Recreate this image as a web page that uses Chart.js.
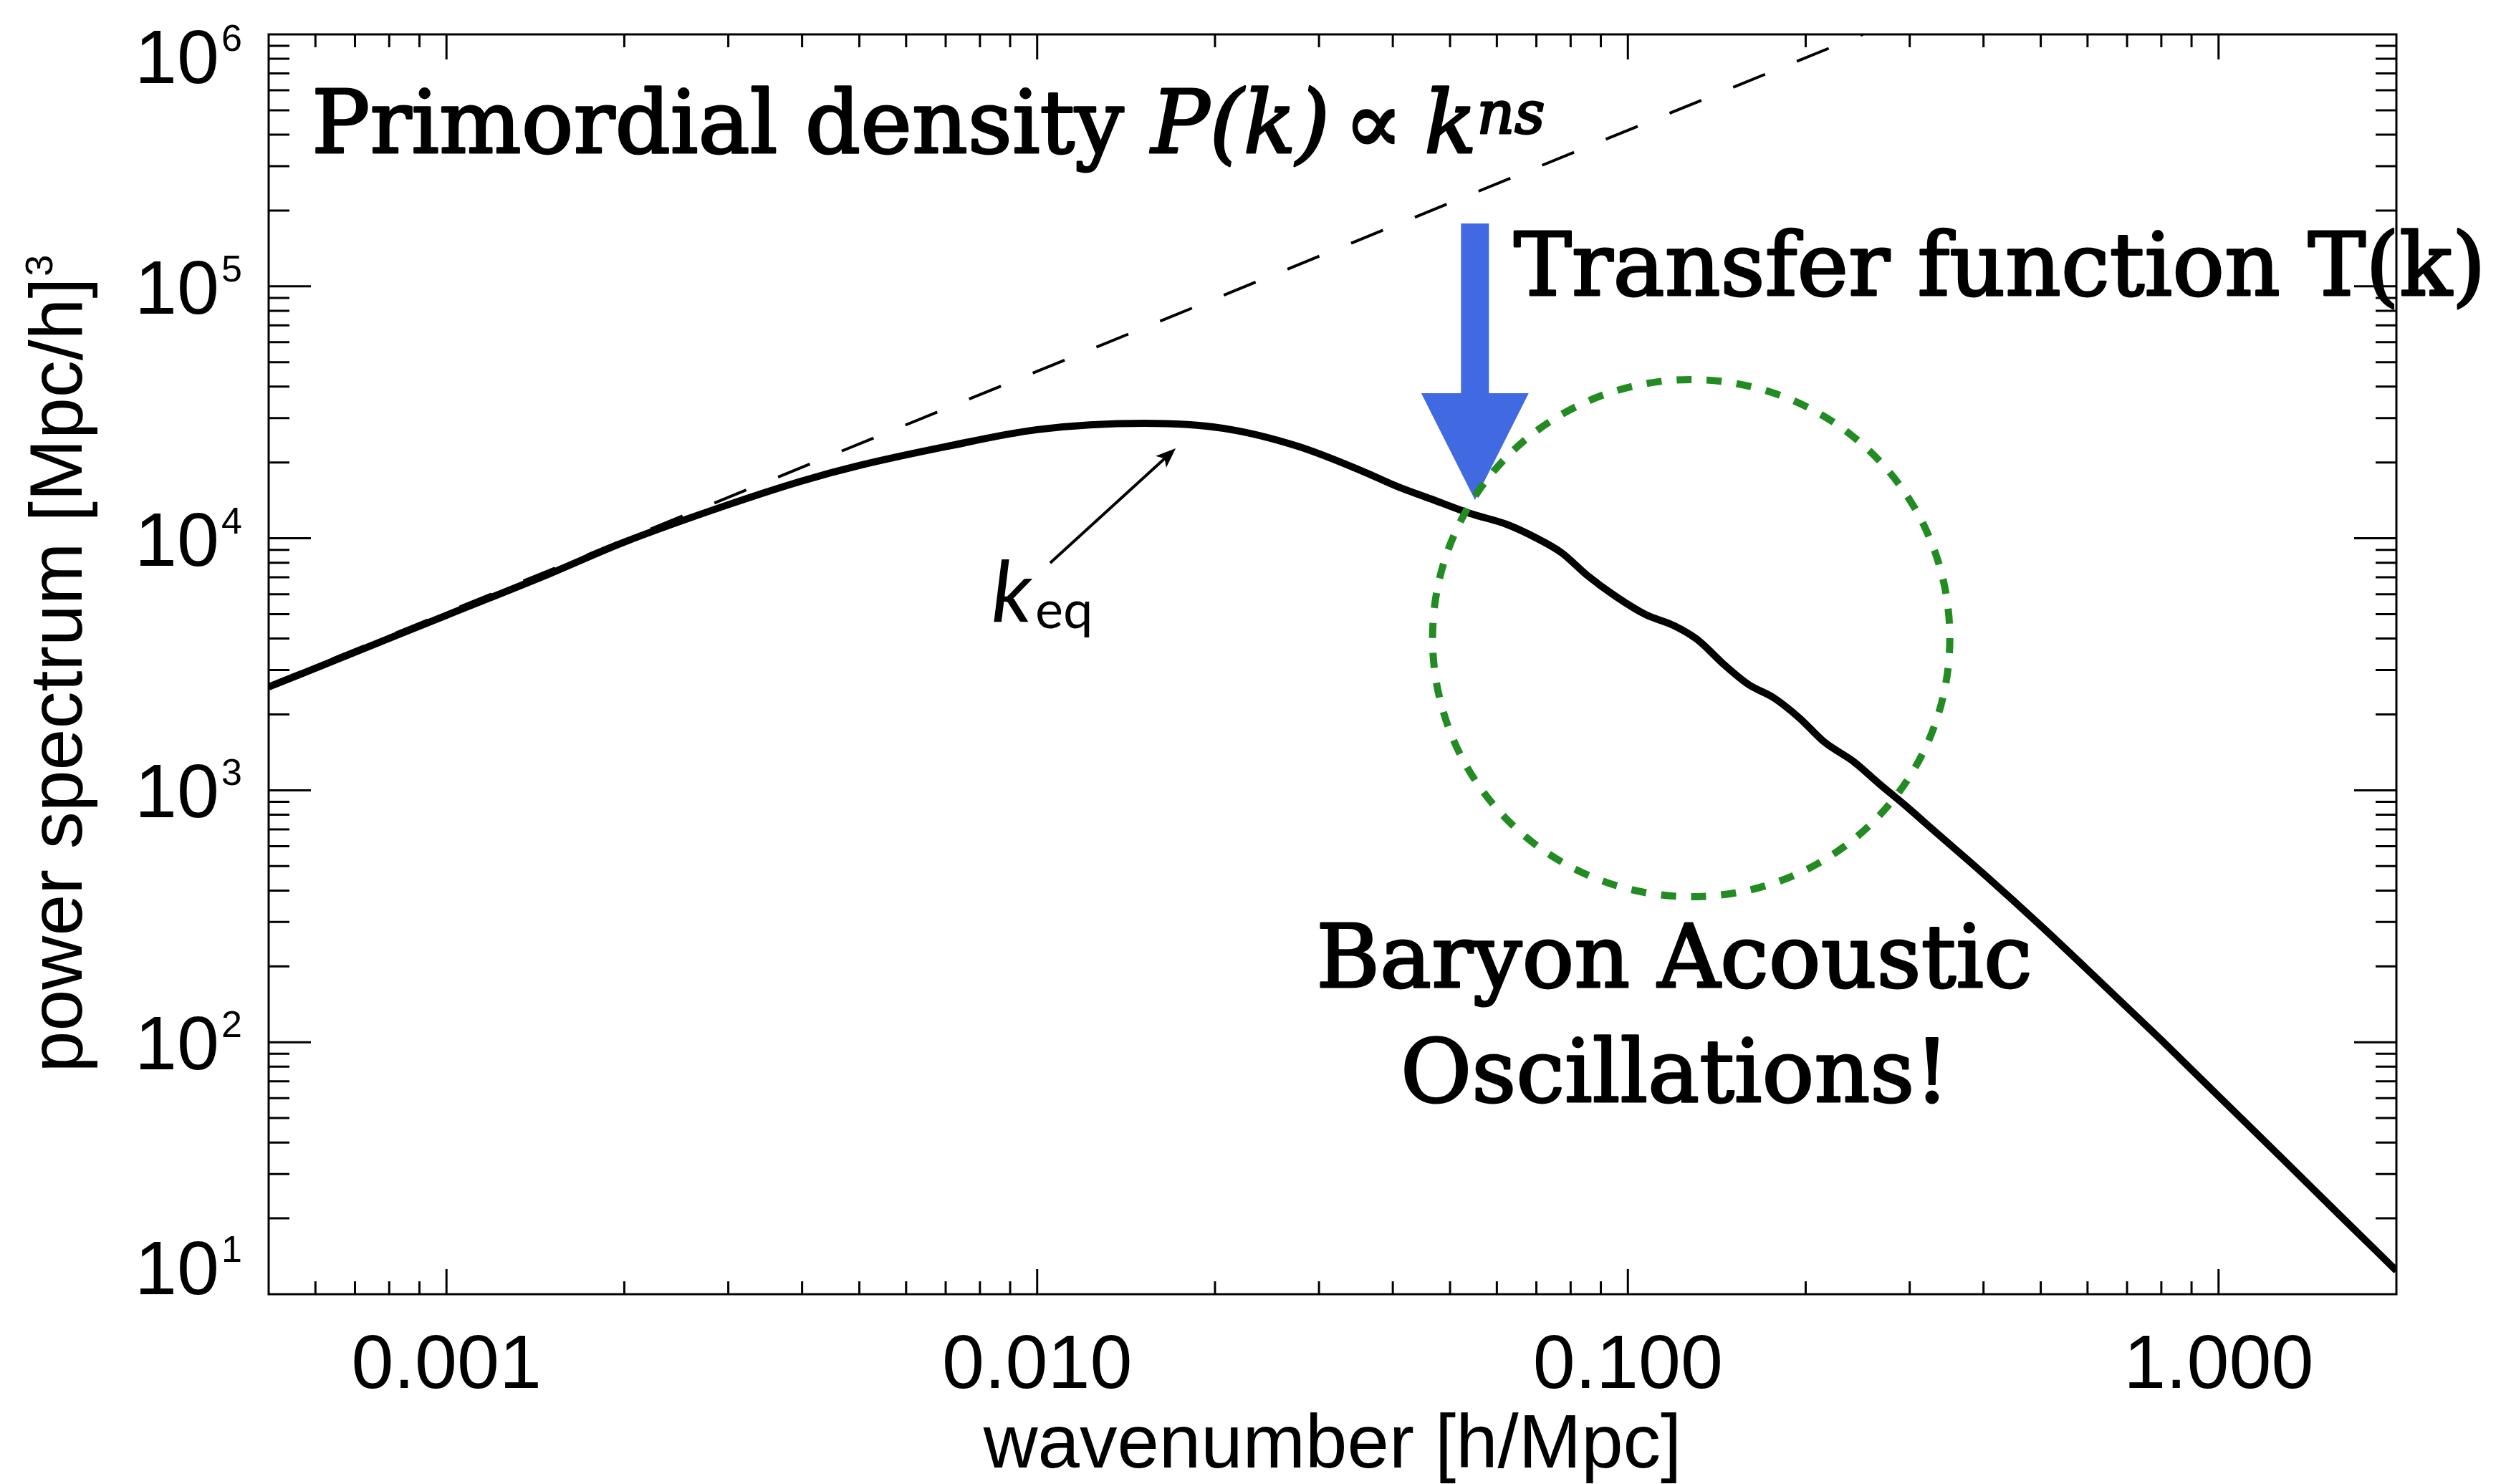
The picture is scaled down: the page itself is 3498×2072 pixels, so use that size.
<!DOCTYPE html>
<html>
<head>
<meta charset="utf-8">
<title>Matter power spectrum</title>
<script src="https://cdn.jsdelivr.net/npm/chart.js@4.4.1/dist/chart.umd.min.js"></script>
<style>
  html, body { margin: 0; padding: 0; background: #fff; }
  #wrap { width: 3498px; height: 2072px; position: relative; }
</style>
</head>
<body>
<div id="wrap"><canvas id="pk-chart"></canvas></div>
<script>
// Linear matter power spectrum: k in h/Mpc, P(k) in (Mpc/h)^3
var wavenumbers = [0.0005, 0.0007, 0.001, 0.0015, 0.002, 0.003, 0.004, 0.005, 0.007, 0.01,
  0.0152, 0.0207, 0.0276, 0.0353, 0.0406, 0.0469, 0.054, 0.0623, 0.0699, 0.0773,
  0.0852, 0.0955, 0.107, 0.120, 0.131, 0.146, 0.160, 0.177, 0.195, 0.215,
  0.241, 0.266, 0.298, 0.329, 0.4, 0.5, 0.63, 0.8, 1.0, 1.25, 1.6, 2.0];
var powerSpectrum = [2570, 3530, 4950, 7260, 9660, 13600, 16900, 19450, 23100, 27000,
  28600, 27300, 23200, 18600, 16100, 14200, 12560, 11370, 10040, 8750,
  7150, 5870, 4990, 4490, 3970, 3130, 2630, 2320, 1940, 1555,
  1300, 1064, 852, 695, 466, 290, 174, 102, 61.1, 36.6, 20.7, 12.4];

// primordial power law P ~ k^ns (two ends of the straight line in log-log)
var primordialK = [0.0005, 0.25];
var primordialP = [2620, 1000000];

// axis ranges and labelled ticks
var kRange = [0.0005, 2];
var pRange = [10, 1000000];
var xTickValues = [0.001, 0.01, 0.1, 1];
var xTickLabels = ['0.001', '0.010', '0.100', '1.000'];
var yTickValues = [10, 100, 1000, 10000, 100000, 1000000];
var yTickExponents = ['1', '2', '3', '4', '5', '6'];

// annotation anchors in data units [k, P]
var keqArrow = [[0.01052, 7985], [0.01716, 22750]];
var transferArrow = [[0.0551, 177600], [0.0551, 14200]];
var baoCircle = [0.128, 4016];

var SANS = "'Liberation Sans', Arial, sans-serif";
var SERIF = "'DejaVu Serif', serif";

function toPoints(xs, ys) {
  return xs.map(function (x, i) { return { x: x, y: ys[i] }; });
}

function logTicks(min, max) {
  var out = [];
  for (var e = Math.floor(Math.log10(min)); e <= Math.ceil(Math.log10(max)); e++) {
    for (var m = 1; m <= 9; m++) {
      var v = m * Math.pow(10, e);
      if (v > min * 1.0001 && v < max * 0.9999) out.push({ v: v, major: m === 1 });
    }
  }
  return out;
}

// serif labels are a bit heavier than the book weight
function heavyText(ctx, str, x, y) {
  ctx.fillText(str, x, y);
  ctx.strokeText(str, x, y);
}

var decorations = {
  id: 'decorations',
  afterDatasetsDraw: function (chart) {
    var ctx = chart.ctx, xs = chart.scales.x, ys = chart.scales.y;
    ctx.save();

    // blue arrow pointing at the turnover region
    var ax = xs.getPixelForValue(transferArrow[0][0]);
    var aTop = ys.getPixelForValue(transferArrow[0][1]);
    var aTip = ys.getPixelForValue(transferArrow[1][1]);
    var headLen = 149, headHalf = 75, shaftHalf = 19.5;
    ctx.fillStyle = '#4169E1';
    ctx.beginPath();
    ctx.moveTo(ax - shaftHalf, aTop);
    ctx.lineTo(ax + shaftHalf, aTop);
    ctx.lineTo(ax + shaftHalf, aTip - headLen);
    ctx.lineTo(ax + headHalf, aTip - headLen);
    ctx.lineTo(ax, aTip);
    ctx.lineTo(ax - headHalf, aTip - headLen);
    ctx.lineTo(ax - shaftHalf, aTip - headLen);
    ctx.closePath();
    ctx.fill();

    // dotted green circle around the wiggles
    var cx = xs.getPixelForValue(baoCircle[0]);
    var cy = ys.getPixelForValue(baoCircle[1]);
    ctx.strokeStyle = '#228B22';
    ctx.lineWidth = 10;
    ctx.setLineDash([21, 21]);
    ctx.beginPath();
    ctx.arc(cx, cy, 361, 0, Math.PI * 2);
    ctx.stroke();
    ctx.setLineDash([]);

    // small arrow to k_eq
    var x0 = xs.getPixelForValue(keqArrow[0][0]), y0 = ys.getPixelForValue(keqArrow[0][1]);
    var x1 = xs.getPixelForValue(keqArrow[1][0]), y1 = ys.getPixelForValue(keqArrow[1][1]);
    var ang = Math.atan2(y1 - y0, x1 - x0);
    ctx.strokeStyle = '#000';
    ctx.fillStyle = '#000';
    ctx.lineWidth = 4;
    ctx.beginPath();
    ctx.moveTo(x0, y0);
    ctx.lineTo(x1 - 18 * Math.cos(ang), y1 - 18 * Math.sin(ang));
    ctx.stroke();
    ctx.save();
    ctx.translate(x1, y1);
    ctx.rotate(ang);
    ctx.beginPath();
    ctx.moveTo(0, 0);
    ctx.lineTo(-28, -11);
    ctx.lineTo(-21, 0);
    ctx.lineTo(-28, 11);
    ctx.closePath();
    ctx.fill();
    ctx.restore();

    ctx.restore();
  },
  afterDraw: function (chart) {
    var ctx = chart.ctx, a = chart.chartArea;
    var xs = chart.scales.x, ys = chart.scales.y;
    ctx.save();
    ctx.strokeStyle = '#000';
    ctx.fillStyle = '#000';

    // frame
    ctx.lineWidth = 3;
    ctx.strokeRect(a.left, a.top, a.right - a.left, a.bottom - a.top);

    // inward ticks on all four sides
    ctx.beginPath();
    logTicks(kRange[0], kRange[1]).forEach(function (t) {
      var px = xs.getPixelForValue(t.v);
      var len = t.major ? 35 : 18;
      ctx.moveTo(px, a.bottom); ctx.lineTo(px, a.bottom - len);
      ctx.moveTo(px, a.top); ctx.lineTo(px, a.top + len);
    });
    logTicks(pRange[0], pRange[1]).forEach(function (t) {
      var py = ys.getPixelForValue(t.v);
      var len = t.major ? 59 : 29;
      ctx.moveTo(a.left, py); ctx.lineTo(a.left + len, py);
      ctx.moveTo(a.right, py); ctx.lineTo(a.right - len, py);
    });
    ctx.stroke();

    // x tick labels
    ctx.font = '106px ' + SANS;
    ctx.textAlign = 'center';
    ctx.textBaseline = 'alphabetic';
    xTickValues.forEach(function (v, i) {
      ctx.fillText(xTickLabels[i], xs.getPixelForValue(v), 1938);
    });

    // y tick labels, 10^n
    yTickValues.forEach(function (v, i) {
      var py = ys.getPixelForValue(v);
      var base = Math.min(Math.max(py + 38, a.top + 68), a.bottom);
      ctx.font = '106px ' + SANS;
      ctx.textAlign = 'right';
      ctx.fillText('10', 306, base);
      ctx.font = '52px ' + SANS;
      ctx.textAlign = 'left';
      ctx.fillText(yTickExponents[i], 309, base - 45);
    });

    // axis titles
    ctx.font = '105px ' + SANS;
    ctx.textAlign = 'center';
    ctx.fillText('wavenumber [h/Mpc]', (a.left + a.right) / 2, 2049);

    ctx.save();
    ctx.translate(114, (a.top + a.bottom) / 2);
    ctx.rotate(-Math.PI / 2);
    ctx.textAlign = 'left';
    ctx.font = '104px ' + SANS;
    var yTitle = 'power spectrum [Mpc/h]';
    var w1 = ctx.measureText(yTitle).width;
    ctx.font = '54px ' + SANS;
    var w2 = ctx.measureText('3').width;
    var start = -(w1 + w2) / 2;
    ctx.font = '104px ' + SANS;
    ctx.fillText(yTitle, start, 0);
    ctx.font = '54px ' + SANS;
    ctx.fillText('3', start + w1 + 2, -41);
    ctx.restore();

    // annotations
    ctx.textAlign = 'left';
    ctx.lineWidth = 3;
    ctx.lineJoin = 'round';
    var x = 435;
    ctx.font = '121px ' + SERIF;
    heavyText(ctx, 'Primordial density ', x, 213);
    x += ctx.measureText('Primordial density ').width;
    ctx.font = 'italic 121px ' + SERIF;
    heavyText(ctx, 'P(k)', x, 213);
    x += ctx.measureText('P(k)').width + 20;
    ctx.font = '121px ' + SERIF;
    heavyText(ctx, '\u221D', x, 213);
    x += ctx.measureText('\u221D').width + 30;
    ctx.font = 'italic 121px ' + SERIF;
    heavyText(ctx, 'k', x, 213);
    x += ctx.measureText('k').width;
    ctx.font = 'italic 82px ' + SERIF;
    heavyText(ctx, 'ns', x, 186);

    ctx.font = '121px ' + SERIF;
    heavyText(ctx, 'Transfer function T(k)', 2113, 412);

    ctx.textAlign = 'center';
    heavyText(ctx, 'Baryon Acoustic', 2337, 1378);
    heavyText(ctx, 'Oscillations!', 2338, 1538);

    ctx.textAlign = 'left';
    ctx.font = 'italic 119px Lato, sans-serif';
    ctx.fillText('k', 1384, 868);
    ctx.font = '74px Lato, sans-serif';
    ctx.fillText('eq', 1445, 877);

    ctx.restore();
  }
};

var ctx = document.getElementById('pk-chart');

var chartData = {
  datasets: [{
    label: 'primordial',
    data: toPoints(primordialK, primordialP),
    borderColor: '#000',
    borderWidth: 4,
    borderDash: [48, 48],
    pointRadius: 0,
    fill: false
  }, {
    label: 'P(k)',
    data: toPoints(wavenumbers, powerSpectrum),
    borderColor: '#000',
    borderWidth: 10,
    pointRadius: 0,
    fill: false,
    cubicInterpolationMode: 'monotone'
  }]
};

var chartOptions = {
  responsive: true,
  maintainAspectRatio: false,
  animation: false,
  devicePixelRatio: 1,
  layout: { padding: { left: 375, right: 153, top: 48, bottom: 265 } },
  plugins: { legend: { display: false }, tooltip: { enabled: false } },
  scales: {
    x: { type: 'logarithmic', min: kRange[0], max: kRange[1], display: false },
    y: { type: 'logarithmic', min: pRange[0], max: pRange[1], display: false }
  }
};

var pkChart = new Chart(ctx, {
  type: 'line',
  data: chartData,
  options: chartOptions,
  plugins: [decorations]
});
</script>
</body>
</html>
